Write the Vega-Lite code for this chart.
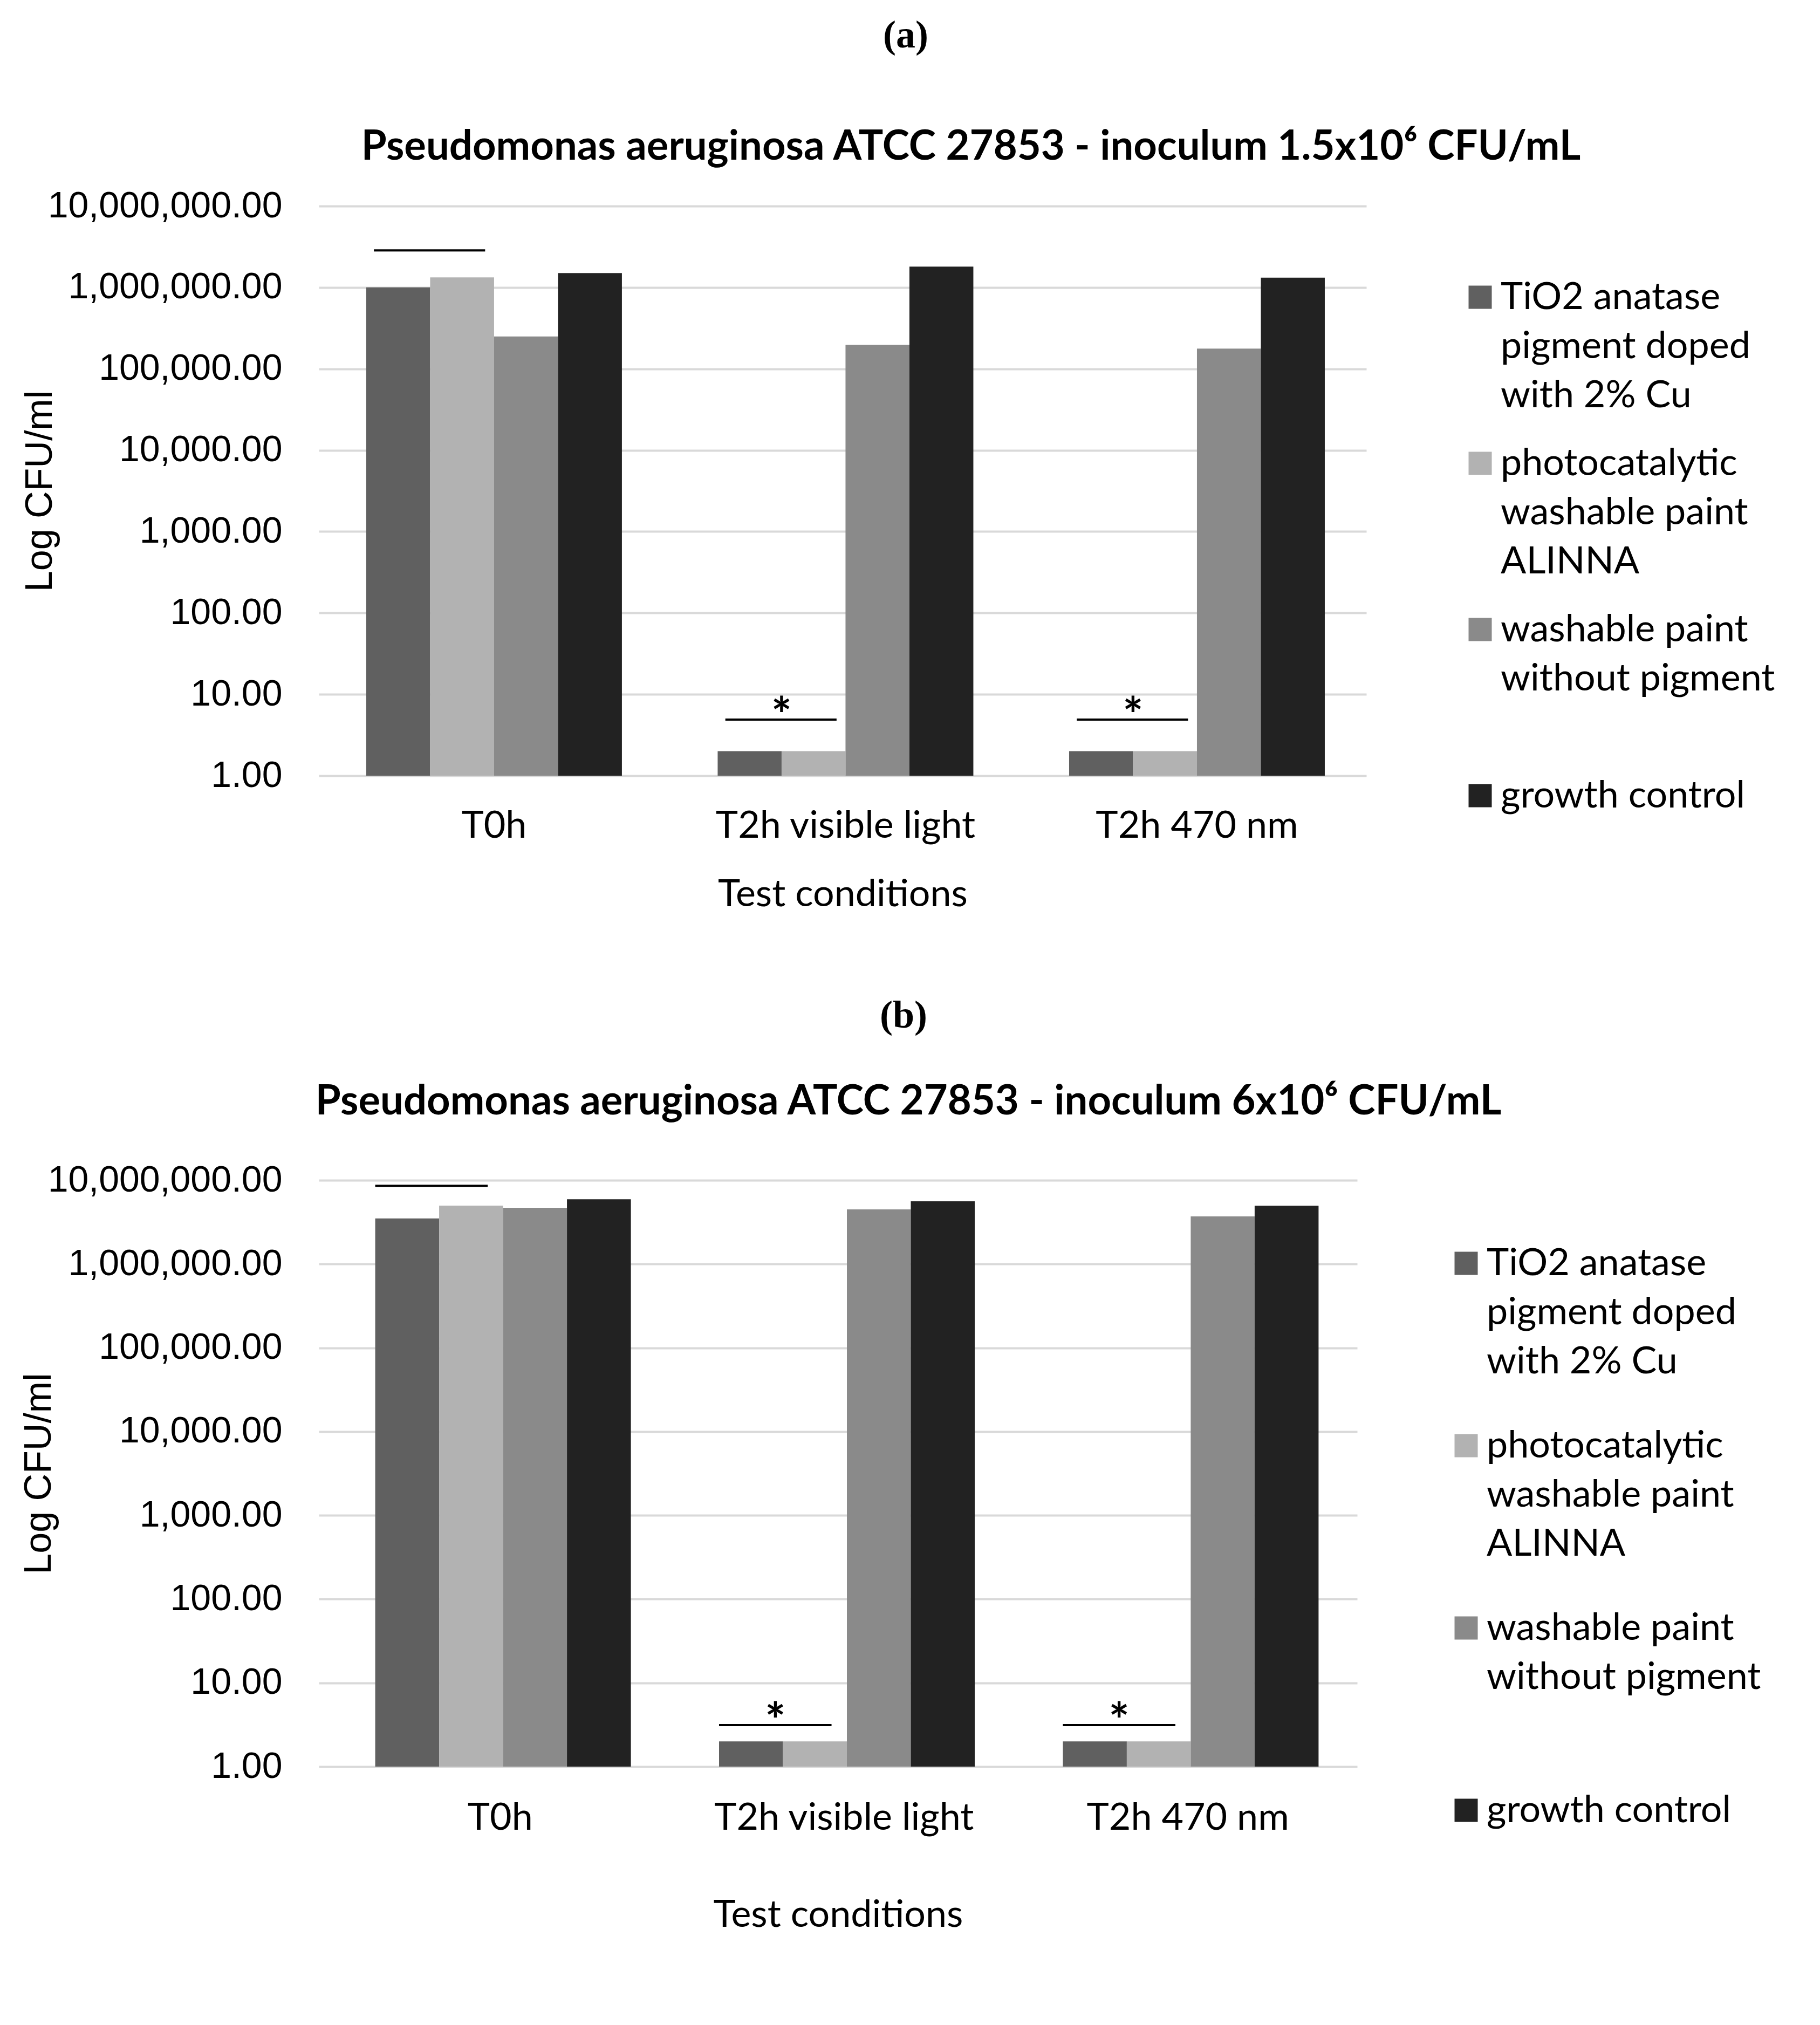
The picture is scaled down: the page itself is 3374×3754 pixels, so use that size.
{
  "$schema": "https://vega.github.io/schema/vega-lite/v6.json",
  "background": "white",
  "padding": {"left": 37, "top": 30, "right": 10, "bottom": 10},
  "datasets": {
    "a": [
      {"condition": "T0h", "series": "TiO2 anatase pigment doped with 2% Cu", "cfu": 1000000},
      {"condition": "T0h", "series": "photocatalytic washable paint ALINNA", "cfu": 1330000},
      {"condition": "T0h", "series": "washable paint without pigment", "cfu": 250000},
      {"condition": "T0h", "series": "growth control", "cfu": 1500000},
      {"condition": "T2h visible light", "series": "TiO2 anatase pigment doped with 2% Cu", "cfu": 2},
      {"condition": "T2h visible light", "series": "photocatalytic washable paint ALINNA", "cfu": 2},
      {"condition": "T2h visible light", "series": "washable paint without pigment", "cfu": 197000},
      {"condition": "T2h visible light", "series": "growth control", "cfu": 1800000},
      {"condition": "T2h 470 nm", "series": "TiO2 anatase pigment doped with 2% Cu", "cfu": 2},
      {"condition": "T2h 470 nm", "series": "photocatalytic washable paint ALINNA", "cfu": 2},
      {"condition": "T2h 470 nm", "series": "washable paint without pigment", "cfu": 177000},
      {"condition": "T2h 470 nm", "series": "growth control", "cfu": 1320000}
    ],
    "b": [
      {"condition": "T0h", "series": "TiO2 anatase pigment doped with 2% Cu", "cfu": 3500000},
      {"condition": "T0h", "series": "photocatalytic washable paint ALINNA", "cfu": 4980000},
      {"condition": "T0h", "series": "washable paint without pigment", "cfu": 4700000},
      {"condition": "T0h", "series": "growth control", "cfu": 5940000},
      {"condition": "T2h visible light", "series": "TiO2 anatase pigment doped with 2% Cu", "cfu": 2},
      {"condition": "T2h visible light", "series": "photocatalytic washable paint ALINNA", "cfu": 2},
      {"condition": "T2h visible light", "series": "washable paint without pigment", "cfu": 4490000},
      {"condition": "T2h visible light", "series": "growth control", "cfu": 5600000},
      {"condition": "T2h 470 nm", "series": "TiO2 anatase pigment doped with 2% Cu", "cfu": 2},
      {"condition": "T2h 470 nm", "series": "photocatalytic washable paint ALINNA", "cfu": 2},
      {"condition": "T2h 470 nm", "series": "washable paint without pigment", "cfu": 3700000},
      {"condition": "T2h 470 nm", "series": "growth control", "cfu": 4970000}
    ],
    "sigA": [
      {"condition": "T0h", "cfu": 2850000, "star": ""},
      {"condition": "T2h visible light", "cfu": 4.9, "star": "*"},
      {"condition": "T2h 470 nm", "cfu": 4.9, "star": "*"}
    ],
    "sigB": [
      {"condition": "T0h", "cfu": 8600000, "star": ""},
      {"condition": "T2h visible light", "cfu": 3.13, "star": "*"},
      {"condition": "T2h 470 nm", "cfu": 3.13, "star": "*"}
    ]
  },
  "spacing": 154,
  "resolve": {"legend": {"color": "independent"}},
  "vconcat": [
    {
      "title": {"text": "(a)", "font": "Liberation Serif", "fontSize": 72, "fontWeight": "bold", "color": "black", "anchor": "middle", "frame": "bounds", "offset": 132, "dx": 14},
      "resolve": {"legend": {"color": "independent"}},
      "vconcat": [
        {
          "width": 1942,
          "height": 1056,
          "title": {"text": "Pseudomonas aeruginosa ATCC 27853 - inoculum 1.5x10⁶ CFU/mL", "dx": 135, "offset": 36},
          "layer": [
            {
              "data": {"name": "a"},
              "mark": {"type": "bar"},
              "encoding": {
                "x": {"field": "condition", "type": "nominal",
                  "scale": {"domain": ["T0h", "T2h visible light", "T2h 470 nm"], "paddingInner": 0.2725, "paddingOuter": 0.1266, "align": 0.533},
                  "axis": {"title": "Test conditions", "labelPadding": 59, "titlePadding": 58}},
                "xOffset": {"field": "series", "type": "nominal",
                  "scale": {"domain": ["TiO2 anatase pigment doped with 2% Cu", "photocatalytic washable paint ALINNA", "washable paint without pigment", "growth control"], "paddingInner": 0, "paddingOuter": 0}},
                "y": {"field": "cfu", "type": "quantitative",
                  "scale": {"type": "log", "domain": [1, 10000000]},
                  "axis": {"title": "Log CFU/ml", "titleX": -517, "values": [1, 10, 100, 1000, 10000, 100000, 1000000, 10000000], "format": ",.2f"}},
                "y2": {"datum": 1},
                "color": {"field": "series", "type": "nominal",
                  "scale": {"domain": ["TiO2 anatase pigment doped with 2% Cu", "photocatalytic washable paint ALINNA", "washable paint without pigment", "growth control"], "range": ["#606060", "#b2b2b2", "#8a8a8a", "#222222"]},
                  "legend": {"legendX": 2118, "legendY": 134, "rowPadding": 55, "labelLimit": 2000,
                    "labelExpr": "datum.label == 'TiO2 anatase pigment doped with 2% Cu' ? ['TiO2 anatase', 'pigment doped', 'with 2% Cu'] : datum.label == 'photocatalytic washable paint ALINNA' ? ['photocatalytic', 'washable paint', 'ALINNA'] : datum.label == 'washable paint without pigment' ? ['washable paint', 'without pigment'] : datum.label",
                    "encode": {"labels": {"update": {"lineHeight": {"value": 91}, "dy": {"value": -33}}}}}}
              }
            },
            {
              "data": {"name": "sigA"},
              "mark": {"type": "rule", "strokeWidth": 4, "color": "black"},
              "encoding": {
                "x": {"field": "condition", "type": "nominal", "bandPosition": 0.03},
                "x2": {"field": "condition", "bandPosition": 0.465},
                "y": {"field": "cfu", "type": "quantitative"}
              }
            },
            {
              "data": {"name": "sigA"},
              "mark": {"type": "text", "font": "Lato", "fontSize": 90, "fontWeight": "bold", "baseline": "alphabetic", "dy": 24, "color": "black"},
              "encoding": {
                "x": {"field": "condition", "type": "nominal", "bandPosition": 0.25},
                "y": {"field": "cfu", "type": "quantitative"},
                "text": {"field": "star"}
              }
            }
          ]
        }
      ]
    },
    {
      "title": {"text": "(b)", "font": "Liberation Serif", "fontSize": 72, "fontWeight": "bold", "color": "black", "anchor": "middle", "frame": "bounds", "offset": 85, "dx": 24},
      "resolve": {"legend": {"color": "independent"}},
      "vconcat": [
        {
          "width": 1925,
          "height": 1087,
          "title": {"text": "Pseudomonas aeruginosa ATCC 27853 - inoculum 6x10⁶ CFU/mL", "dx": 33, "offset": 68},
          "layer": [
            {
              "data": {"name": "b"},
              "mark": {"type": "bar"},
              "encoding": {
                "x": {"field": "condition", "type": "nominal",
                  "scale": {"domain": ["T0h", "T2h visible light", "T2h 470 nm"], "paddingInner": 0.273, "paddingOuter": 0.1465, "align": 0.56},
                  "axis": {"title": "Test conditions", "labelPadding": 61, "titlePadding": 111}},
                "xOffset": {"field": "series", "type": "nominal",
                  "scale": {"domain": ["TiO2 anatase pigment doped with 2% Cu", "photocatalytic washable paint ALINNA", "washable paint without pigment", "growth control"], "paddingInner": 0, "paddingOuter": 0}},
                "y": {"field": "cfu", "type": "quantitative",
                  "scale": {"type": "log", "domain": [1, 10000000]},
                  "axis": {"title": "Log CFU/ml", "titleX": -519, "values": [1, 10, 100, 1000, 10000, 100000, 1000000, 10000000], "format": ",.2f"}},
                "y2": {"datum": 1},
                "color": {"field": "series", "type": "nominal",
                  "scale": {"domain": ["TiO2 anatase pigment doped with 2% Cu", "photocatalytic washable paint ALINNA", "washable paint without pigment", "growth control"], "range": ["#606060", "#b2b2b2", "#8a8a8a", "#222222"]},
                  "legend": {"legendX": 2092, "legendY": 119, "rowPadding": 85, "labelLimit": 2000,
                    "labelExpr": "datum.label == 'TiO2 anatase pigment doped with 2% Cu' ? ['TiO2 anatase', 'pigment doped', 'with 2% Cu'] : datum.label == 'photocatalytic washable paint ALINNA' ? ['photocatalytic', 'washable paint', 'ALINNA'] : datum.label == 'washable paint without pigment' ? ['washable paint', 'without pigment'] : datum.label",
                    "encode": {"labels": {"update": {"lineHeight": {"value": 91}, "dy": {"value": -33}}}}}}
              }
            },
            {
              "data": {"name": "sigB"},
              "mark": {"type": "rule", "strokeWidth": 4, "color": "black"},
              "encoding": {
                "x": {"field": "condition", "type": "nominal", "bandPosition": 0.0},
                "x2": {"field": "condition", "bandPosition": 0.45},
                "y": {"field": "cfu", "type": "quantitative"}
              }
            },
            {
              "data": {"name": "sigB"},
              "mark": {"type": "text", "font": "Lato", "fontSize": 90, "fontWeight": "bold", "baseline": "alphabetic", "dy": 24, "color": "black"},
              "encoding": {
                "x": {"field": "condition", "type": "nominal", "bandPosition": 0.225},
                "y": {"field": "cfu", "type": "quantitative"},
                "text": {"field": "star"}
              }
            }
          ]
        }
      ]
    }
  ],
  "config": {
    "view": {"stroke": null},
    "title": {"font": "Lato", "fontSize": 76, "fontWeight": "bold", "color": "black", "anchor": "middle", "frame": "bounds"},
    "axisX": {"labelFont": "Lato", "labelFontSize": 70, "labelColor": "black", "labelAngle": 0, "labelLimit": 2000, "ticks": false, "domain": false, "grid": false,
      "titleFont": "Lato", "titleFontSize": 70, "titleFontWeight": "normal", "titleColor": "black"},
    "axisY": {"labelFont": "Liberation Sans", "labelFontSize": 68, "labelColor": "black", "labelPadding": 68, "labelLimit": 2000, "ticks": false, "domain": false,
      "grid": true, "gridColor": "#d9d9d9", "gridWidth": 4,
      "titleFont": "Liberation Sans", "titleFontSize": 70, "titleFontWeight": "normal", "titleColor": "black", "titleBaseline": "middle"},
    "legend": {"orient": "none", "title": null, "symbolType": "square", "symbolSize": 1849, "symbolStrokeWidth": 0,
      "labelFont": "Lato", "labelFontSize": 70, "labelColor": "black", "labelOffset": 3, "labelBaseline": "top",
      "gridAlign": "all", "padding": 0}
  }
}
